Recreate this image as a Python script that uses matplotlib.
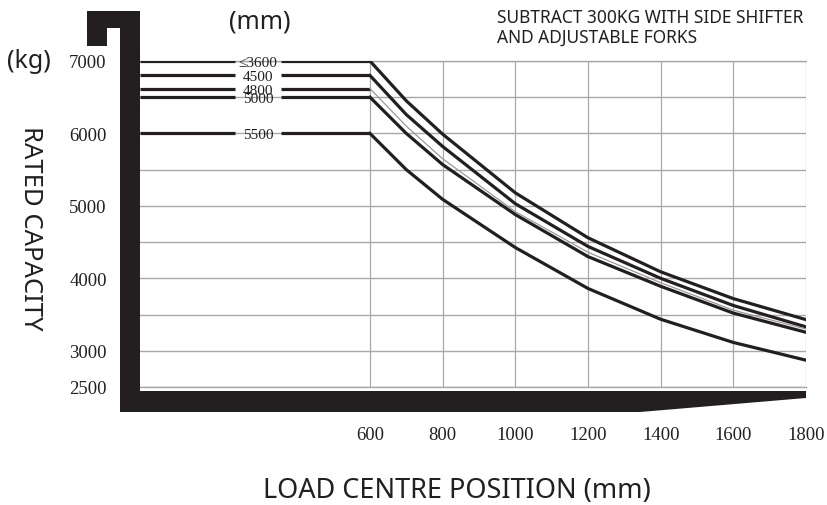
import matplotlib
matplotlib.use('Agg')
import matplotlib.pyplot as plt
from matplotlib.patches import Polygon

# -- data ---------------------------------------------------------------------
load_centre = [600, 700, 800, 1000, 1200, 1400, 1600, 1800]
mast_labels = ['≤3600', '4500', '4800', '5000', '5500']
cap_3600 = [7000, 6450, 5990, 5180, 4560, 4090, 3720, 3430]
cap_4500 = [6800, 6260, 5820, 5030, 4440, 4000, 3625, 3330]
cap_4800 = [6620, 6100, 5650, 4920, 4360, 3940, 3560, 3300]
cap_5000 = [6500, 6000, 5570, 4880, 4300, 3890, 3520, 3255]
cap_5500 = [6000, 5500, 5090, 4425, 3860, 3435, 3115, 2870]
curves = [cap_3600, cap_4500, cap_4800, cap_5000, cap_5500]

x_ticks = [600, 800, 1000, 1200, 1400, 1600, 1800]
y_ticks = [2500, 3000, 4000, 5000, 6000, 7000]
y_grid = [3500, 4500, 5500, 6500]

X_LEFT = -33
GAP = (228, 355)      # break in the flat lines where the mast label sits
INK = '#231f20'
GRID = '#a8a8a8'
W, H = 828, 506

fig = plt.figure(figsize=(W / 100, H / 100), dpi=100)
ax = fig.add_axes([140 / W, 1 - 388 / H, (806 - 140) / W, (388 - 62) / H])
ax.set_xlim(X_LEFT, 1800)
ax.set_ylim(2500, 7000)
for s in ax.spines.values():
    s.set_visible(False)

ax.set_xticks(x_ticks)
ax.set_yticks(y_ticks)
ax.set_yticks(y_grid, minor=True)
ax.tick_params(which='both', length=0)
ax.tick_params(axis='x', pad=28)
ax.tick_params(axis='y', pad=24)
for lab in ax.get_xticklabels() + ax.get_yticklabels():
    lab.set_fontfamily('Liberation Serif')
    lab.set_fontsize(13.5)
    lab.set_color(INK)
ax.grid(axis='x', color=GRID, lw=0.9)
ax.grid(axis='y', which='both', color=GRID, lw=1.0)
ax.axhline(2500, color=GRID, lw=1.0, clip_on=False)
ax.axhline(7000, color=GRID, lw=1.0, clip_on=False)

# curves: flat part left of 600 mm (with a break for the label), then derating
for lab, cap in zip(mast_labels, curves):
    ax.plot([X_LEFT, GAP[0]], [cap[0], cap[0]], color=INK, lw=2.3,
            solid_capstyle='butt', zorder=3)
    ax.plot([GAP[1], load_centre[0]], [cap[0], cap[0]], color=INK, lw=2.3,
            solid_capstyle='butt', zorder=3)
    if lab == '4800':
        ax.plot(load_centre, cap, color='#9a9a9a', lw=0.9, zorder=3)
    else:
        ax.plot(load_centre, cap, color=INK, lw=2.3, zorder=3)
    ax.text(sum(GAP) / 2, cap[0], lab, ha='center', va='center_baseline',
            fontsize=11, family=['Liberation Serif', 'DejaVu Serif'],
            color=INK, zorder=4)

# black frame (hook + base) in figure pixels
frame_px = [(87, 12), (140, 12), (140, 392), (806, 392), (806, 399),
            (640, 413), (120, 413), (120, 29), (107, 29), (107, 47), (87, 47)]
frame = Polygon([(x / W, 1 - y / H) for x, y in frame_px], closed=True,
                transform=fig.transFigure, fc=INK, ec='none')
fig.patches.append(frame)

sans = 'Noto Sans'
fig.text(29 / W, 1 - 62 / H, '(kg)', ha='center', va='center',
         fontsize=18, family=sans, weight='light', color=INK)
fig.text(260 / W, 1 - 22 / H, '(mm)', ha='center', va='center',
         fontsize=18, family=sans, weight='light', color=INK)
fig.text(30 / W, 1 - 228 / H, 'RATED CAPACITY', ha='center', va='center',
         rotation=270, fontsize=18.5, family=sans, weight='light', color=INK)
fig.text(457 / W, 1 - 491 / H, 'LOAD CENTRE POSITION (mm)', ha='center',
         va='center', fontsize=19.5, family=sans, weight='light', color=INK)
fig.text(497 / W, 1 - 9 / H, 'SUBTRACT 300KG WITH SIDE SHIFTER\nAND ADJUSTABLE FORKS',
         ha='left', va='top', fontsize=12.5, family=sans, color=INK,
         linespacing=1.15)

fig.savefig('out.png', dpi=100)
